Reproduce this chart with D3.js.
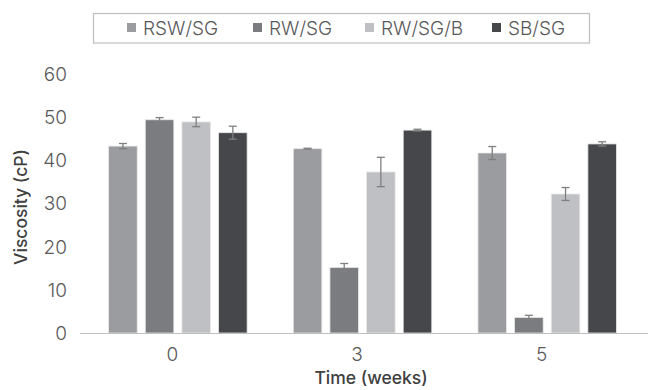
<!DOCTYPE html>
<html><head><meta charset="utf-8">
<script src="https://cdn.jsdelivr.net/npm/d3@7"></script>
<style>body{margin:0;background:#fff}</style>
</head><body>
<svg id="c" width="648" height="390"></svg>
<script>
const categories = ["0", "3", "5"];
const seriesNames = ["RSW/SG", "RW/SG", "RW/SG/B", "SB/SG"];
const colors = ["#9b9c9f", "#7b7c7f", "#bfc0c3", "#46474a"];
const values = {
  "RSW/SG": [43.3, 42.7, 41.7],
  "RW/SG": [49.4, 15.2, 3.6],
  "RW/SG/B": [48.9, 37.3, 32.2],
  "SB/SG": [46.4, 47.0, 43.8]
};
const errors = {
  "RSW/SG": [0.6, 0.1, 1.5],
  "RW/SG": [0.5, 0.9, 0.5],
  "RW/SG/B": [1.1, 3.4, 1.5],
  "SB/SG": [1.5, 0.2, 0.5]
};
const yTicks = [0, 10, 20, 30, 40, 50, 60];

const svg = d3.select("#c");
const font = "Inter, Roboto, sans-serif";
const x0 = d3.scaleBand().domain(categories).range([80, 634]).paddingInner(0).paddingOuter(0);
const y = d3.scaleLinear().domain([0, 60]).range([333, 74]);
const x1 = d3.scaleBand().domain(seriesNames).range([x0.bandwidth()*0.155, x0.bandwidth()*0.905]).paddingInner(0.22);

// bars
categories.forEach((c, ci) => {
  seriesNames.forEach((s, si) => {
    const v = values[s][ci];
    const bx = x0(c) + x1(s);
    svg.append("rect")
      .attr("x", bx).attr("y", y(v))
      .attr("width", x1.bandwidth()).attr("height", y(0) - y(v))
      .attr("fill", colors[si]).attr("stroke", "#e8e8e8").attr("stroke-width", 0.8);
  });
});
// error bars
categories.forEach((c, ci) => {
  seriesNames.forEach((s, si) => {
    const v = values[s][ci], e = errors[s][ci];
    const cx = x0(c) + x1(s) + x1.bandwidth()/2;
    const g = svg.append("g").attr("stroke", "#7f7f7f").attr("stroke-width", 1.3);
    g.append("line").attr("x1", cx).attr("x2", cx).attr("y1", y(v+e)).attr("y2", y(v-e));
    g.append("line").attr("x1", cx-4).attr("x2", cx+4).attr("y1", y(v+e)).attr("y2", y(v+e));
    g.append("line").attr("x1", cx-4).attr("x2", cx+4).attr("y1", y(v-e)).attr("y2", y(v-e));
  });
});

// x axis line
svg.append("line").attr("x1", 80).attr("x2", 648).attr("y1", y(0)+0.5).attr("y2", y(0)+0.5)
  .attr("stroke", "#bfbfbf").attr("stroke-width", 1.2);

// y tick labels
svg.selectAll(".yt").data(yTicks).enter().append("text")
  .attr("x", 67).attr("y", d => y(d)).attr("dy", "0.36em")
  .attr("text-anchor", "end").attr("font-family", font).attr("font-weight", 300)
  .attr("font-size", 19).attr("fill", "#595959").text(d => d);

// x tick labels
svg.selectAll(".xt").data(categories).enter().append("text")
  .attr("x", d => x0(d) + x0.bandwidth()/2).attr("y", 361)
  .attr("text-anchor", "middle").attr("font-family", font).attr("font-weight", 300)
  .attr("font-size", 19).attr("fill", "#595959").text(d => d);

// axis titles
svg.append("text").attr("x", 371).attr("y", 384).attr("text-anchor", "middle")
  .attr("font-family", font).attr("font-weight", 500).attr("font-size", 17.5)
  .attr("fill", "#404040").text("Time (weeks)");
svg.append("text").attr("transform", "translate(27,207) rotate(-90)").attr("text-anchor", "middle")
  .attr("font-family", font).attr("font-weight", 500).attr("font-size", 17.5)
  .attr("fill", "#404040").text("Viscosity (cP)");

// legend
svg.append("rect").attr("x", 93.5).attr("y", 13.5).attr("width", 496).attr("height", 29.5)
  .attr("fill", "none").attr("stroke", "#bfbfbf").attr("stroke-width", 1.2);
const legX = [127, 253, 365, 492];
seriesNames.forEach((s, i) => {
  svg.append("rect").attr("x", legX[i]).attr("y", 23).attr("width", 9).attr("height", 9).attr("fill", colors[i]);
  svg.append("text").attr("x", legX[i] + 16).attr("y", 35).attr("font-family", font).attr("font-weight", 300)
    .attr("font-size", 19).attr("fill", "#595959").text(s);
});
</script>
</body></html>
